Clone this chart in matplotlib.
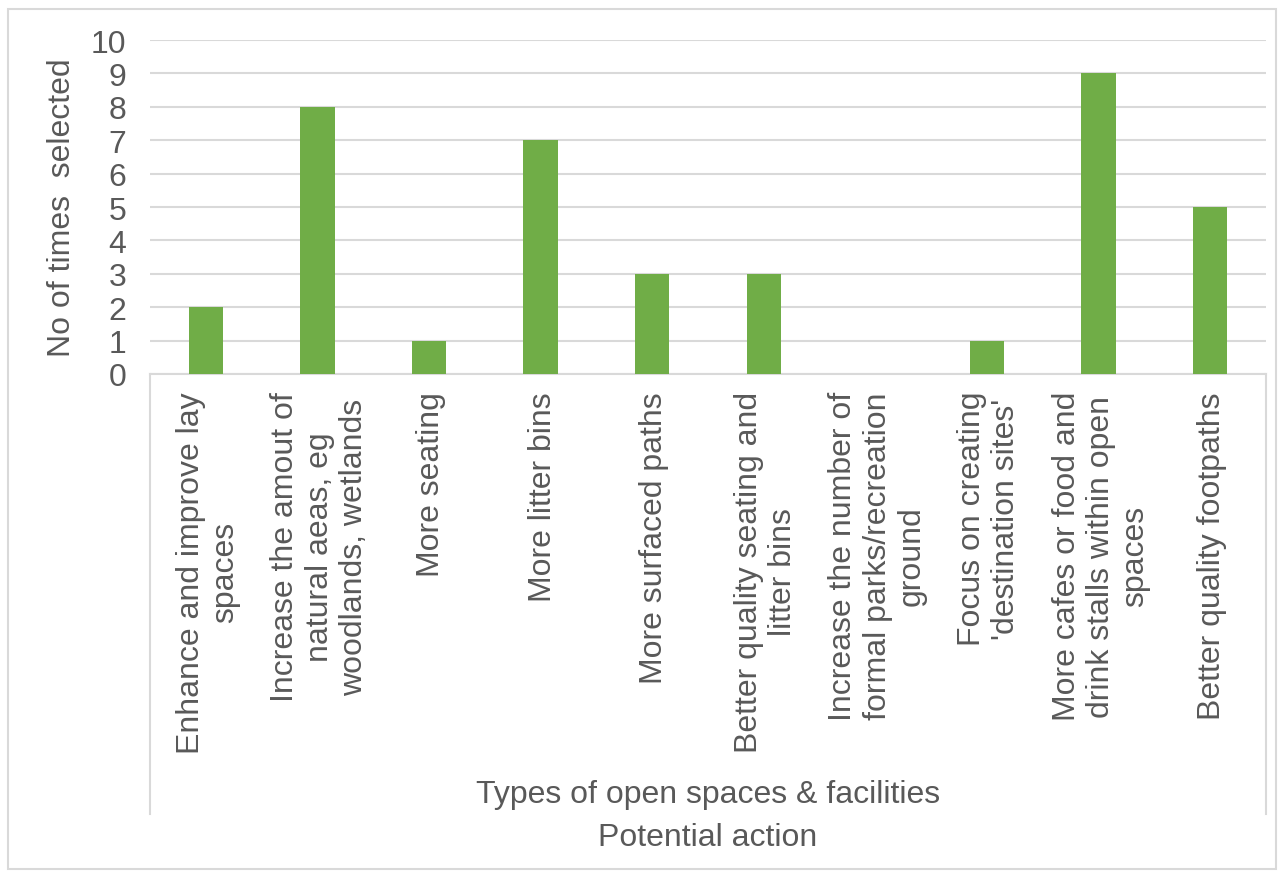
import matplotlib.pyplot as plt
from matplotlib.patches import Rectangle
from matplotlib.transforms import blended_transform_factory

# Survey results: potential actions for open spaces
categorias = [
    "Enhance and improve lay\nspaces",
    "Increase the amout of\nnatural aeas, eg\nwoodlands, wetlands",
    "More seating",
    "More litter bins",
    "More surfaced paths",
    "Better quality seating and\nlitter bins",
    "Increase the number of\nformal parks/recreation\nground",
    "Focus on creating\n'destination sites'",
    "More cafes or food and\ndrink stalls within open\nspaces",
    "Better quality footpaths",
]
selecionados = [2, 8, 1, 7, 3, 3, 0, 1, 9, 5]
y_ticks = list(range(0, 11))

grupo = "Types of open spaces & facilities"
titulo_x = "Potential action"
titulo_y = "No of times  selected"

cor_barra = "#70AD47"
cor_texto = "#595959"
cor_linha = "#D9D9D9"

plt.rcParams["font.family"] = ["Liberation Sans", "DejaVu Sans"]
fs = 23

W, H = 1284, 879
fig = plt.figure(figsize=(W / 100, H / 100), dpi=100)

# outer chart border
fig.patches.append(Rectangle((8 / W, 1 - 870 / H), (1276 - 8) / W, (870 - 10) / H,
                             transform=fig.transFigure, fill=False,
                             edgecolor=cor_linha, linewidth=1.5))

x0, x1, y_top, y_bot = 150, 1266, 41, 375
ax = fig.add_axes([x0 / W, 1 - y_bot / H, (x1 - x0) / W, (y_bot - y_top) / H])

pos = range(len(categorias))
ax.bar(pos, selecionados, width=0.31, color=cor_barra, zorder=3)

ax.set_xlim(-0.5, len(categorias) - 0.5)
ax.set_ylim(0, 10)
ax.set_yticks(y_ticks)
ax.set_yticklabels([str(v) for v in y_ticks], fontsize=fs, color=cor_texto)
ax.tick_params(axis="y", length=0, pad=17)
ax.set_xticks([])
ax.grid(axis="y", color=cor_linha, linewidth=1.5, zorder=0)

for lado in ["top", "right", "left"]:
    ax.spines[lado].set_visible(False)
ax.spines["bottom"].set_color(cor_linha)
ax.spines["bottom"].set_linewidth(1.5)

# category labels (rotated, centred under each bar)
trans = blended_transform_factory(ax.transData, ax.transAxes)
for i, rotulo in enumerate(categorias):
    ax.text(i + 0.02, -17 / 334, rotulo, transform=trans, rotation=90,
            ha="center", va="top", multialignment="center",
            fontsize=fs, color=cor_texto, linespacing=1.18)

# multi-level category box edges
fundo = -(815 - y_bot) / (y_bot - y_top)
for xa in [0, 1]:
    ax.plot([xa, xa], [0, fundo], transform=ax.transAxes, clip_on=False,
            color=cor_linha, linewidth=1.5)

ax.text(0.5, -(795 - y_bot) / (y_bot - y_top), grupo, transform=ax.transAxes,
        ha="center", va="center", fontsize=fs, color=cor_texto)

fig.text((x0 + x1) / 2 / W, 1 - 838 / H, titulo_x, ha="center", va="center",
         fontsize=fs, color=cor_texto)
fig.text(62 / W, 1 - 208 / H, titulo_y, ha="center", va="center", rotation=90,
         fontsize=fs, color=cor_texto)

plt.savefig("out.png", dpi=100)
